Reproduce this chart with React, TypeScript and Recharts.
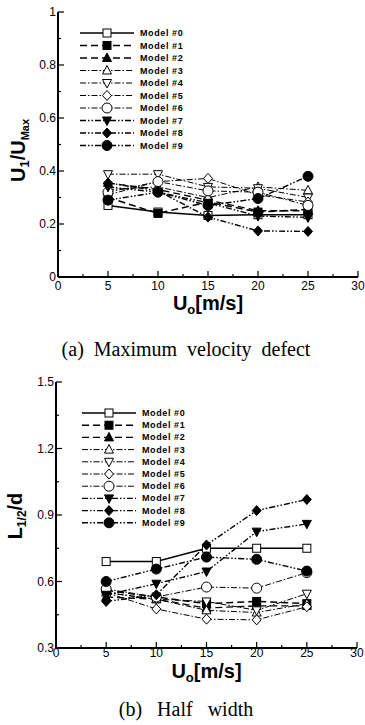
import React from "react"
import { LineChart, Line, XAxis, YAxis } from "recharts"

const speeds = [5, 10, 15, 20, 25]
const modelNames = ["Model #0", "Model #1", "Model #2", "Model #3", "Model #4", "Model #5", "Model #6", "Model #7", "Model #8", "Model #9"]

// (a) maximum velocity defect U1/Umax
const defect0 = [0.27, 0.245, 0.232, 0.235, 0.235]
const defect1 = [0.3, 0.24, 0.283, 0.245, 0.255]
const defect2 = [0.355, 0.33, 0.29, 0.25, 0.25]
const defect3 = [0.33, 0.34, 0.3, 0.34, 0.327]
const defect4 = [0.388, 0.388, 0.34, 0.335, 0.3]
const defect5 = [0.31, 0.36, 0.372, 0.31, 0.283]
const defect6 = [0.32, 0.36, 0.325, 0.32, 0.27]
const defect7 = [0.34, 0.32, 0.28, 0.23, 0.225]
const defect8 = [0.355, 0.325, 0.226, 0.174, 0.172]
const defect9 = [0.29, 0.32, 0.27, 0.296, 0.38]

// (b) half width L1/2/d
const width0 = [0.69, 0.69, 0.75, 0.75, 0.75]
const width1 = [0.56, 0.53, 0.5, 0.51, 0.5]
const width2 = [0.53, 0.52, 0.48, 0.49, 0.49]
const width3 = [0.55, 0.52, 0.47, 0.46, 0.5]
const width4 = [0.55, 0.52, 0.51, 0.47, 0.545]
const width5 = [0.55, 0.476, 0.43, 0.427, 0.486]
const width6 = [0.566, 0.53, 0.575, 0.57, 0.64]
const width7 = [0.54, 0.59, 0.645, 0.825, 0.86]
const width8 = [0.51, 0.54, 0.765, 0.92, 0.97]
const width9 = [0.6, 0.656, 0.71, 0.7, 0.647]

const xTicks = [0, 2.5, 5, 7.5, 10, 12.5, 15, 17.5, 20, 22.5, 25, 27.5, 30]
const defectTicks = [0, 0.1, 0.2, 0.3, 0.4, 0.5, 0.6, 0.7, 0.8, 0.9, 1]
const widthTicks = [0.3, 0.45, 0.6, 0.75, 0.9, 1.05, 1.2, 1.35, 1.5]

const defectSeries = [defect0, defect1, defect2, defect3, defect4, defect5, defect6, defect7, defect8, defect9]
const widthSeries = [width0, width1, width2, width3, width4, width5, width6, width7, width8, width9]

type Shape = "square" | "triangle" | "triangleDown" | "diamond" | "circle"
const modelStyles: { shape: Shape; filled: boolean; dash?: string; w: number }[] = [
  { shape: "square", filled: false, w: 1.6 },
  { shape: "square", filled: true, dash: "7 4", w: 1.5 },
  { shape: "triangle", filled: true, dash: "7 4", w: 1.3 },
  { shape: "triangle", filled: false, dash: "6 2 1.5 2", w: 1 },
  { shape: "triangleDown", filled: false, dash: "6 2 1.5 2", w: 1 },
  { shape: "diamond", filled: false, dash: "6 2 1.5 2", w: 1 },
  { shape: "circle", filled: false, dash: "6 2 1.5 2", w: 1 },
  { shape: "triangleDown", filled: true, dash: "6 2 1.5 2 1.5 2", w: 1.4 },
  { shape: "diamond", filled: true, dash: "6 2 1.5 2 1.5 2", w: 1.4 },
  { shape: "circle", filled: true, dash: "6 2 1.5 2 1.5 2", w: 1.4 },
]

const SANS = "'Liberation Sans', Arial, sans-serif"

function buildRows(series: number[][]) {
  return speeds.map((u, i) => {
    const row: Record<string, number> = { u }
    series.forEach((s, k) => (row[`m${k}`] = s[i]))
    return row
  })
}

function Marker({ cx, cy, shape, filled }: { cx: number; cy: number; shape: Shape; filled: boolean }) {
  const fill = filled ? "#000" : "#fff"
  const common = { fill, stroke: "#000", strokeWidth: 1 }
  if (shape === "square") return <rect x={cx - 4} y={cy - 4} width={8} height={8} {...common} />
  if (shape === "circle") return <circle cx={cx} cy={cy} r={5} {...common} />
  if (shape === "triangle")
    return <polygon points={`${cx},${cy - 5} ${cx + 4.5},${cy + 3.5} ${cx - 4.5},${cy + 3.5}`} {...common} />
  if (shape === "triangleDown")
    return <polygon points={`${cx},${cy + 5} ${cx + 4.5},${cy - 3.5} ${cx - 4.5},${cy - 3.5}`} {...common} />
  return <polygon points={`${cx},${cy - 5} ${cx + 4.5},${cy} ${cx},${cy + 5} ${cx - 4.5},${cy}`} {...common} />
}

function XTick(props: any) {
  const { x, y, payload, labelDy } = props
  const v = payload.value as number
  const major = v % 5 === 0
  return (
    <g>
      <line x1={x} y1={y} x2={x} y2={y - (major ? 6 : 3)} stroke="#000" strokeWidth={1.2} />
      {major && (
        <text x={x} y={y + labelDy} textAnchor="middle" fontSize={12} fontFamily={SANS} fill="#000">
          {v}
        </text>
      )}
    </g>
  )
}

function YTick(props: any) {
  const { x, y, payload, major } = props
  const v = payload.value as number
  return (
    <g>
      <line x1={x} y1={y} x2={x + (major ? 6 : 3)} y2={y} stroke="#000" strokeWidth={1.2} />
      {major && (
        <text x={x - 2} y={y + 4} textAnchor="end" fontSize={12} fontFamily={SANS} fill="#000">
          {String(Math.round(v * 10) / 10)}
        </text>
      )}
    </g>
  )
}

function XLabel({ viewBox, dy }: any) {
  const cx = viewBox.x + viewBox.width / 2
  return (
    <text x={cx} y={viewBox.y + dy} textAnchor="middle" fontSize={20} fontWeight="bold" fontFamily={SANS} fill="#000">
      U<tspan fontSize={13} dy={4}>o</tspan>
      <tspan dy={-4}>[m/s]</tspan>
    </text>
  )
}

function ModelLegend({ left, top, gap }: { left: number; top: number; gap: number }) {
  return (
    <svg width={130} height={gap * 10 + 10} style={{ position: "absolute", left, top }}>
      {modelNames.map((name, k) => {
        const st = modelStyles[k]
        const y = 6 + k * gap
        return (
          <g key={name}>
            <line x1={2} y1={y} x2={56} y2={y} stroke="#000" strokeWidth={st.w} strokeDasharray={st.dash} />
            <Marker cx={29} cy={y} shape={st.shape} filled={st.filled} />
            <text x={62} y={y + 3} fontSize={9} fontWeight="bold" letterSpacing={0.6} fontFamily={SANS} fill="#000">
              {name}
            </text>
          </g>
        )
      })}
    </svg>
  )
}

function Panel({
  rows,
  height,
  domain,
  yTicks,
  isMajor,
  margin,
  yLabel,
  xLabelDy,
  tickDy,
}: {
  rows: Record<string, number>[]
  height: number
  domain: [number, number]
  yTicks: number[]
  isMajor: (v: number) => boolean
  margin: { top: number; right: number; bottom: number; left: number }
  yLabel: (vb: any) => React.ReactNode
  xLabelDy: number
  tickDy: number
}) {
  return (
    <LineChart width={365} height={height} data={rows} margin={margin}>
      <XAxis
        dataKey="u"
        type="number"
        domain={[0, 30]}
        ticks={xTicks}
        interval={0}
        tickSize={0}
        tickMargin={0}
        tick={(p: any) => <XTick {...p} labelDy={tickDy} />}
        axisLine={{ stroke: "#000", strokeWidth: 2 }}
        height={30}
        label={{ content: (p: any) => <XLabel viewBox={p.viewBox} dy={xLabelDy} /> }}
      />
      <XAxis xAxisId="t" orientation="top" dataKey="u" type="number" domain={[0, 30]} tick={false} tickLine={false} height={0} axisLine={{ stroke: "#000", strokeWidth: 1.5 }} />
      <YAxis
        type="number"
        domain={domain}
        ticks={yTicks}
        interval={0}
        tickSize={0}
        tickMargin={0}
        width={30}
        tick={(p: any) => <YTick {...p} major={isMajor(p.payload.value)} />}
        axisLine={{ stroke: "#000", strokeWidth: 2 }}
        label={{ content: (p: any) => yLabel(p.viewBox) }}
      />
      <YAxis yAxisId="r" orientation="right" type="number" domain={domain} tick={false} tickLine={false} width={0} axisLine={{ stroke: "#000", strokeWidth: 1.5 }} />
      {modelStyles.map((st, k) => (
        <Line
          key={k}
          dataKey={`m${k}`}
          type="linear"
          stroke="#000"
          strokeWidth={st.w}
          strokeDasharray={st.dash}
          isAnimationActive={false}
          activeDot={false}
          dot={(p: any) => <Marker key={`d${k}-${p.index}`} cx={p.cx} cy={p.cy} shape={st.shape} filled={st.filled} />}
        />
      ))}
    </LineChart>
  )
}

const defectRows = buildRows(defectSeries)
const widthRows = buildRows(widthSeries)

const captionStyle: React.CSSProperties = {
  position: "absolute",
  left: 0,
  width: 372,
  textAlign: "center",
  fontFamily: "'Liberation Serif', serif",
  fontSize: 20,
}

export default function App() {
  return (
    <div style={{ position: "absolute", left: 0, top: 0, width: 365, height: 725, background: "#fff" }}>
      <div style={{ position: "absolute", left: 0, top: 0 }}>
        <Panel
          rows={defectRows}
          height={320}
          domain={[0, 1]}
          yTicks={defectTicks}
          isMajor={(v) => Math.round(v * 10) % 2 === 0}
          margin={{ top: 12, right: 7, bottom: 13, left: 28 }}
          xLabelDy={33}
          tickDy={13}
          yLabel={(vb: any) => (
            <text
              transform={`translate(${vb.x - 3},${vb.y + vb.height / 2 + 6}) rotate(-90)`}
              textAnchor="middle"
              fontSize={20}
              fontWeight="bold"
              fontFamily={SANS}
              fill="#000"
            >
              U<tspan fontSize={13} dy={4}>1</tspan>
              <tspan dy={-4}>/U</tspan>
              <tspan fontSize={11} dy={4}>Max</tspan>
            </text>
          )}
        />
      </div>
      <ModelLegend left={78} top={27} gap={12.5} />
      <div style={{ ...captionStyle, top: 338, wordSpacing: 5 }}>(a) Maximum velocity defect</div>
      <div style={{ position: "absolute", left: 0, top: 362 }}>
        <Panel
          rows={widthRows}
          height={330}
          domain={[0.3, 1.5]}
          yTicks={widthTicks}
          isMajor={(v) => Math.round((v - 0.3) / 0.15) % 2 === 0}
          margin={{ top: 20, right: 8, bottom: 14, left: 26 }}
          xLabelDy={30}
          tickDy={9}
          yLabel={(vb: any) => (
            <text
              transform={`translate(${vb.x - 4},${vb.y + vb.height / 2 + 1}) rotate(-90)`}
              textAnchor="middle"
              fontSize={20}
              fontWeight="bold"
              fontFamily={SANS}
              fill="#000"
            >
              L<tspan fontSize={12} dy={4}>1/2</tspan>
              <tspan dy={-4}>/d</tspan>
            </text>
          )}
        />
      </div>
      <ModelLegend left={80} top={407} gap={12.2} />
      <div style={{ ...captionStyle, top: 698, wordSpacing: 10 }}>(b) Half width</div>
    </div>
  )
}
